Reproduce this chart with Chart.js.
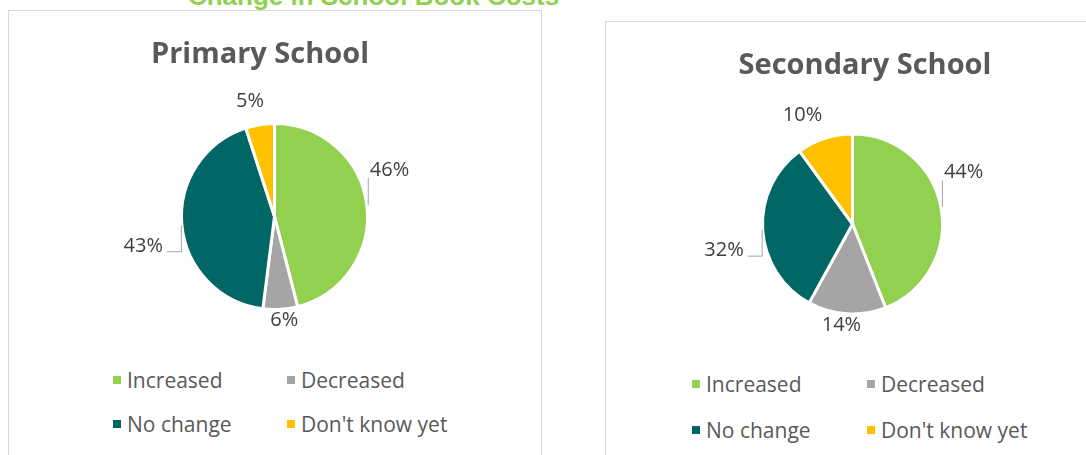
<!DOCTYPE html>
<html>
<head>
    <title>Change in School Book Costs</title>
    <script src="https://cdn.jsdelivr.net/npm/chart.js"></script>
    <style>
        body { margin: 0; width: 1086px; height: 455px; overflow: hidden; background: #fff; position: relative; font-family: "Open Sans", sans-serif; }
        .main-title { position: absolute; left: 0; width: 747px; top: -19px; line-height: 30px; text-align: center; font-family: "Liberation Sans", Arial, sans-serif; font-size: 26px; font-weight: bold; color: #92D050; white-space: nowrap; }
        .panel { position: absolute; border: 1px solid #d9d9d9; background: #fff; }
        #left-panel { left: 8px; top: 10px; width: 532px; height: 470px; }
        #right-panel { left: 605px; top: 21px; width: 520px; height: 470px; }
        canvas { position: absolute; }
        .legend { position: absolute; display: grid; font-size: 21px; color: #595959; white-space: nowrap; }
        .legend .box { display: inline-block; width: 8px; height: 8px; margin-right: 6px; vertical-align: middle; position: relative; top: -2px; }
    </style>
</head>
<body>
    <div class="main-title">Change in School Book Costs</div>
    <div class="panel" id="left-panel"></div>
    <div class="panel" id="right-panel"></div>

    <canvas id="primaryChart" width="531" height="330" style="left:9px; top:11px;"></canvas>
    <canvas id="secondaryChart" width="493" height="330" style="left:606px; top:22px;"></canvas>

    <div class="legend" id="primaryLegend" style="left:113px; top:358px; grid-template-columns:174px 174px; line-height:44px;"></div>
    <div class="legend" id="secondaryLegend" style="left:692px; top:361px; grid-template-columns:175px 175px; line-height:46px;"></div>

    <script>
        const categories = ['Increased', 'Decreased', 'No change', "Don't know yet"];
        const primaryValues = [46, 6, 43, 5];
        const secondaryValues = [44, 14, 32, 10];
        const sliceColors = ['#92D050', '#A5A5A5', '#006666', '#FFC000'];

        // percentage labels outside the slices, side ones get a leader line
        const pieLabels = {
            id: 'pieLabels',
            afterDatasetsDraw(chart) {
                const ctx = chart.ctx;
                const meta = chart.getDatasetMeta(0);
                const values = chart.data.datasets[0].data;
                const clamp = v => Math.max(-1, Math.min(1, v));
                ctx.save();
                ctx.font = '20px "Open Sans"';
                ctx.fillStyle = '#404040';
                ctx.strokeStyle = '#a6a6a6';
                ctx.lineWidth = 1;
                ctx.textBaseline = 'middle';
                meta.data.forEach((arc, i) => {
                    const p = arc.getProps(['x', 'y', 'startAngle', 'endAngle', 'outerRadius'], true);
                    const mid = (p.startAngle + p.endAngle) / 2;
                    const dx = Math.cos(mid), dy = Math.sin(mid);
                    const ex = p.x + dx * p.outerRadius, ey = p.y + dy * p.outerRadius;
                    const text = values[i] + '%';
                    const w = ctx.measureText(text).width;
                    if (Math.abs(dx) > 0.8) {
                        ctx.beginPath();
                        if (dx > 0) {
                            ctx.moveTo(ex + 1.5, ey);
                            ctx.lineTo(ex + 1.5, ey - 27);
                            ctx.stroke();
                            ctx.textAlign = 'left';
                            ctx.fillText(text, ex + 3, ey - 35);
                        } else {
                            ctx.moveTo(ex - 0.5, ey);
                            ctx.lineTo(ex - 0.5, ey + 26.5);
                            ctx.lineTo(ex - 15, ey + 26.5);
                            ctx.stroke();
                            ctx.textAlign = 'right';
                            ctx.fillText(text, ex - 19, ey + 21);
                        }
                    } else {
                        const px = p.x + dx * (p.outerRadius + 8);
                        const py = p.y + dy * (p.outerRadius + 8);
                        ctx.textAlign = 'center';
                        ctx.fillText(text, px + w / 2 * clamp(dx * 4), py + 9 * clamp(dy * 3) - 6);
                    }
                });
                ctx.restore();
            }
        };

        const panelTitle = {
            id: 'panelTitle',
            afterDraw(chart, args, opts) {
                const ctx = chart.ctx;
                ctx.save();
                ctx.font = 'bold 29px "Open Sans"';
                ctx.fillStyle = '#595959';
                ctx.textAlign = 'center';
                ctx.textBaseline = 'alphabetic';
                ctx.fillText(opts.text, opts.x, opts.y);
                ctx.restore();
            }
        };

        const makePie = (id, title, values, radius, padding, titleX) => new Chart(document.getElementById(id), {
            type: 'pie',
            data: {
                labels: categories,
                datasets: [{
                    data: values,
                    backgroundColor: sliceColors,
                    borderColor: '#ffffff',
                    borderWidth: 3,
                    radius: radius
                }]
            },
            options: {
                responsive: false,
                animation: false,
                layout: { padding: padding },
                plugins: {
                    legend: { display: false },
                    tooltip: { enabled: false },
                    panelTitle: { text: title, x: titleX, y: 52 }
                }
            },
            plugins: [pieLabels, panelTitle]
        });

        makePie('primaryChart', 'Primary School', primaryValues, 93, { top: 100, bottom: 19 }, 251);
        makePie('secondaryChart', 'Secondary School', secondaryValues, 90, { top: 95, bottom: 21 }, 259);

        const buildLegend = (id) => {
            const el = document.getElementById(id);
            categories.forEach((c, i) => {
                const item = document.createElement('div');
                item.innerHTML = '<span class="box" style="background:' + sliceColors[i] + '"></span>' + c;
                el.appendChild(item);
            });
        };
        buildLegend('primaryLegend');
        buildLegend('secondaryLegend');
    </script>
</body>
</html>
